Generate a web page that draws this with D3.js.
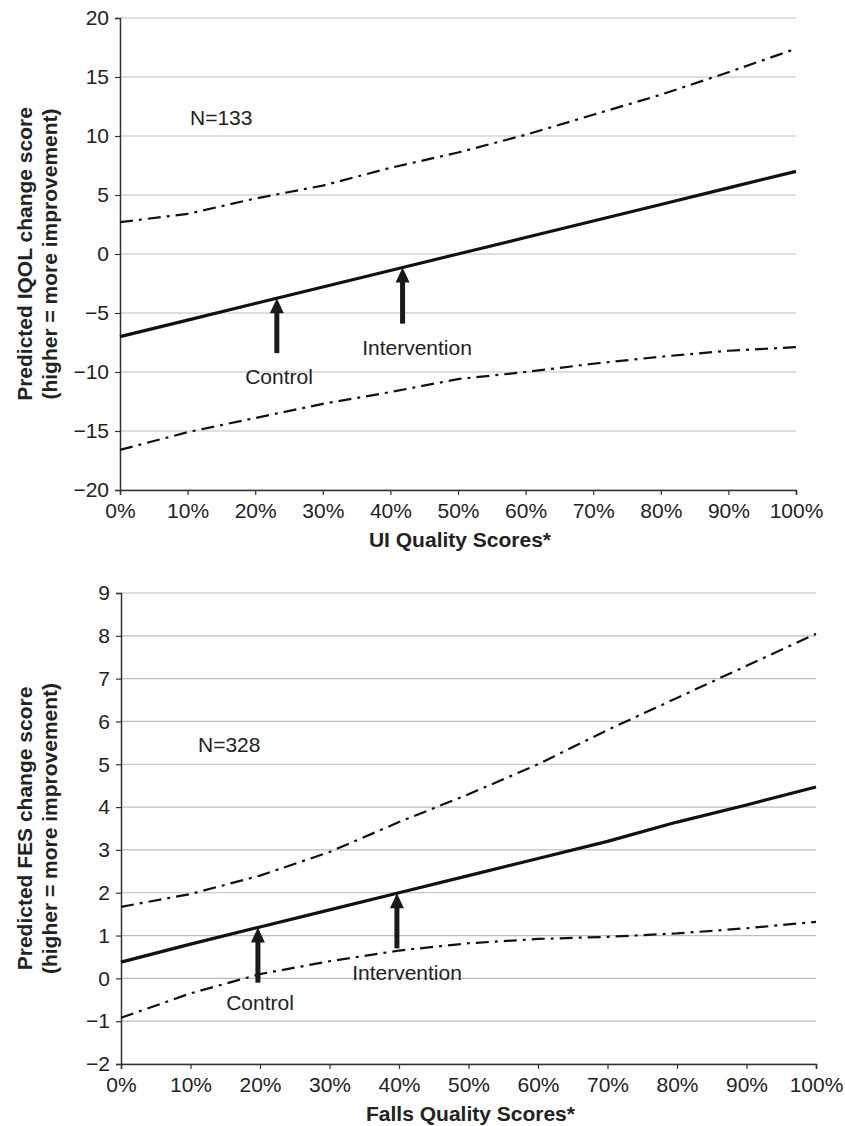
<!DOCTYPE html>
<html lang="en">
<head>
<meta charset="utf-8">
<title>Predicted change scores</title>
<script src="https://d3js.org/d3.v7.min.js"></script>
<style>
  body { margin: 0; background: #fff; }
  svg { display: block; font-family: "Liberation Sans", Arial, sans-serif; }
</style>
</head>
<body>
<div id="chart"></div>
<script>
// x positions (quality score, %)
const pct = [0, 10, 20, 30, 40, 50, 60, 70, 80, 90, 100];
const pctTicks = [0, 10, 20, 30, 40, 50, 60, 70, 80, 90, 100];

// top panel: IQOL
const iqolMid   = [-7.0, -5.6, -4.2, -2.8, -1.4, 0.0, 1.4, 2.8, 4.2, 5.6, 7.0];
const iqolUpper = [2.7, 3.4, 4.7, 5.8, 7.3, 8.6, 10.1, 11.8, 13.5, 15.4, 17.4];
const iqolLower = [-16.6, -15.1, -13.9, -12.7, -11.7, -10.6, -10.0, -9.3, -8.7, -8.2, -7.9];
const iqolTicks = [-20, -15, -10, -5, 0, 5, 10, 15, 20];
const iqolArrows = [ // [x %, tail value]
  [23.2, -8.4],
  [41.8, -5.9]
];

// bottom panel: FES
const fesMid   = [0.38, 0.8, 1.2, 1.6, 2.0, 2.4, 2.8, 3.2, 3.65, 4.05, 4.47];
const fesUpper = [1.67, 1.97, 2.4, 2.95, 3.65, 4.3, 5.0, 5.8, 6.55, 7.3, 8.05];
const fesLower = [-0.92, -0.35, 0.1, 0.4, 0.65, 0.82, 0.92, 0.97, 1.05, 1.17, 1.32];
const fesTicks = [-2, -1, 0, 1, 2, 3, 4, 5, 6, 7, 8, 9];
const fesArrows = [
  [19.7, -0.1],
  [39.7, 0.7]
];

const W = 845, H = 1126;
const svg = d3.select("#chart").append("svg").attr("width", W).attr("height", H);
svg.append("rect").attr("width", W).attr("height", H).attr("fill", "#fff");

function drawPanel(p) {
  const x = d3.scaleLinear().domain([0, 100]).range([p.left, p.right]);
  const y = d3.scaleLinear().domain(d3.extent(p.ticks)).range([p.bottom, p.top]);
  const g = svg.append("g");

  // horizontal grid
  g.selectAll(".grid").data(p.ticks).enter().append("line")
    .attr("x1", p.left).attr("x2", p.right)
    .attr("y1", d => y(d)).attr("y2", d => y(d))
    .attr("stroke", "#bdbdbd").attr("stroke-width", 1.2);

  // y axis
  const ya = g.append("g").attr("transform", `translate(${p.left},0)`)
    .call(d3.axisLeft(y).tickValues(p.ticks).tickSize(5).tickPadding(6)
      .tickFormat(d => d < 0 ? "\u2212" + Math.abs(d) : d));
  ya.select(".domain").attr("stroke", "#333").attr("stroke-width", 1.5);
  ya.selectAll(".tick line").attr("stroke", "#333").attr("stroke-width", 1.2);
  ya.selectAll(".tick text").attr("font-size", 21).attr("fill", "#222")
    .attr("font-family", "Liberation Sans, Arial, sans-serif");

  // x axis
  const xa = g.append("g").attr("transform", `translate(0,${p.bottom})`)
    .call(d3.axisBottom(x).tickValues(pctTicks).tickSize(5).tickPadding(8)
      .tickFormat(d => d + "%"));
  xa.select(".domain").attr("stroke", "#333").attr("stroke-width", 1.5);
  xa.selectAll(".tick line").attr("stroke", "#333").attr("stroke-width", 1.2);
  xa.selectAll(".tick text").attr("font-size", 21).attr("fill", "#222")
    .attr("font-family", "Liberation Sans, Arial, sans-serif");

  const line = d3.line().x((d, i) => x(pct[i])).y(d => y(d));

  [p.upper, p.lower].forEach(s => {
    g.append("path").datum(s).attr("d", line)
      .attr("fill", "none").attr("stroke", "#111").attr("stroke-width", 2.2)
      .attr("stroke-dasharray", "13,6,3,6");
  });
  g.append("path").datum(p.mid).attr("d", line)
    .attr("fill", "none").attr("stroke", "#111").attr("stroke-width", 3.2);

  // arrows
  const midAt = v => d3.scaleLinear().domain(pct).range(p.mid)(v);
  p.arrows.forEach(a => {
    const ax = x(a[0]), tip = y(midAt(a[0])), tail = y(a[1]);
    g.append("line").attr("x1", ax).attr("x2", ax)
      .attr("y1", tail).attr("y2", tip + 12)
      .attr("stroke", "#1a1a1a").attr("stroke-width", 5);
    g.append("path")
      .attr("d", `M${ax},${tip} L${ax - 7},${tip + 15} L${ax + 7},${tip + 15} Z`)
      .attr("fill", "#1a1a1a");
  });

  p.labels.forEach(l => {
    g.append("text").attr("x", l[0]).attr("y", l[1])
      .attr("text-anchor", "middle").attr("font-size", 21).attr("fill", "#222")
      .text(l[2]);
  });

  // N label
  g.append("text").attr("x", p.nPos[0]).attr("y", p.nPos[1])
    .attr("font-size", 21).attr("fill", "#222").text(p.nText);

  // x title
  g.append("text").attr("x", (p.left + p.right) / 2 + 2).attr("y", p.bottom + 57)
    .attr("text-anchor", "middle").attr("font-size", 21).attr("font-weight", "bold")
    .attr("fill", "#222").text(p.xTitle);

  // y title (two lines)
  const cy = (p.top + p.bottom) / 2;
  p.yTitle.forEach((t, i) => {
    g.append("text")
      .attr("transform", `translate(${32 + i * 25},${cy}) rotate(-90)`)
      .attr("text-anchor", "middle").attr("font-size", 21).attr("font-weight", "bold")
      .attr("fill", "#222").text(t);
  });
}

drawPanel({
  left: 120, right: 796, top: 18, bottom: 490,
  ticks: iqolTicks, mid: iqolMid, upper: iqolUpper, lower: iqolLower,
  arrows: iqolArrows,
  labels: [[279, 384, "Control"], [417, 355, "Intervention"]],
  nPos: [190, 125], nText: "N=133",
  xTitle: "UI Quality Scores*",
  yTitle: ["Predicted IQOL change score", "(higher = more improvement)"]
});

drawPanel({
  left: 121, right: 816, top: 593, bottom: 1064,
  ticks: fesTicks, mid: fesMid, upper: fesUpper, lower: fesLower,
  arrows: fesArrows,
  labels: [[260, 1010, "Control"], [407, 980, "Intervention"]],
  nPos: [198, 752], nText: "N=328",
  xTitle: "Falls Quality Scores*",
  yTitle: ["Predicted FES change score", "(higher = more improvement)"]
});
</script>
</body>
</html>
